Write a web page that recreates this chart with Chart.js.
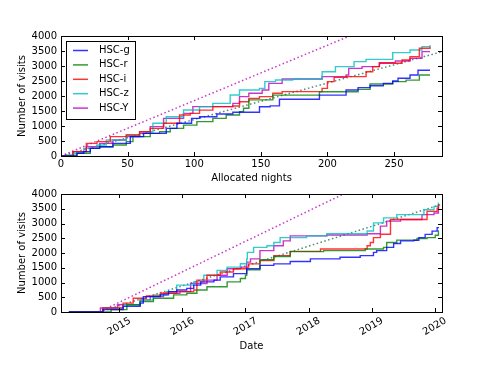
<!DOCTYPE html>
<html>
<head>
<meta charset="utf-8">
<script src="https://cdn.jsdelivr.net/npm/chart.js@4.4.0/dist/chart.umd.min.js"></script>
<style>
	html, body { margin: 0; padding: 0; background: #fff; }
	#wrap { position: relative; width: 491px; height: 368px; }
	canvas { position: absolute; left: 0; }
	#nightsChart { top: 0; }
	#dateChart { top: 184px; }
</style>
</head>
<body>
<div id="wrap">
	<canvas id="nightsChart" width="491" height="184"></canvas>
	<canvas id="dateChart" width="491" height="184"></canvas>
</div>
<script>
// ===== DATA =====
const filters = ['HSC-g', 'HSC-r', 'HSC-i', 'HSC-z', 'HSC-Y'];
const filterColors = [
	'rgba(0, 0, 255, 0.8)',
	'rgba(0, 128, 0, 0.8)',
	'rgba(255, 0, 0, 0.8)',
	'rgba(0, 191, 191, 0.8)',
	'rgba(191, 0, 191, 0.8)'
];
const visitTicks = [0, 500, 1000, 1500, 2000, 2500, 3000, 3500, 4000];
const nightTicks = [0, 50, 100, 150, 200, 250];
const yearTicks = [2015, 2016, 2017, 2018, 2019, 2020];

// cumulative visits vs allocated nights
const nightsG = [0, 5, 12, 17, 22, 29, 39, 52, 62, 79, 87, 98, 104, 117, 129, 149, 157, 164, 194, 214, 223, 232, 242, 249, 253, 262, 268, 277];
const visitsNightsG = [0, 0, 90, 145, 255, 310, 420, 645, 755, 920, 1090, 1255, 1310, 1400, 1460, 1640, 1670, 1890, 2030, 2200, 2280, 2340, 2420, 2500, 2590, 2700, 2860, 2860];
const nightsR = [0, 4, 12, 22, 29, 39, 49, 54, 67, 74, 82, 92, 102, 114, 124, 134, 137, 141, 159, 194, 223, 232, 249, 259, 269, 277];
const visitsNightsR = [0, 30, 90, 255, 310, 365, 480, 645, 755, 810, 920, 1030, 1145, 1255, 1365, 1480, 1590, 1870, 2030, 2140, 2220, 2400, 2480, 2530, 2700, 2700];
const nightsI = [0, 9, 19, 27, 37, 49, 59, 67, 77, 89, 97, 104, 114, 129, 134, 141, 149, 159, 166, 196, 200, 205, 214, 229, 234, 239, 256, 262, 269, 277];
const visitsNightsI = [0, 145, 420, 480, 645, 700, 810, 920, 1090, 1365, 1420, 1530, 1645, 1665, 1810, 1920, 1980, 2090, 2145, 2255, 2480, 2620, 2645, 2810, 2980, 3090, 3200, 3310, 3590, 3640];
const nightsZ = [0, 9, 17, 27, 34, 49, 59, 69, 79, 92, 104, 114, 127, 134, 149, 153, 161, 174, 196, 206, 220, 229, 249, 262, 271, 277];
const visitsNightsZ = [0, 90, 255, 365, 535, 700, 810, 1090, 1310, 1535, 1645, 1755, 2035, 2200, 2255, 2480, 2535, 2565, 2810, 2980, 3145, 3220, 3445, 3535, 3645, 3700];
const nightsY = [0, 9, 19, 29, 39, 49, 59, 67, 77, 92, 99, 129, 134, 141, 151, 156, 166, 196, 214, 216, 226, 239, 251, 262, 271, 277];
const visitsNightsY = [0, 145, 310, 420, 535, 645, 755, 980, 1255, 1420, 1645, 1755, 1980, 2090, 2200, 2420, 2565, 2645, 2700, 2920, 2980, 3110, 3165, 3255, 3480, 3480];

// cumulative visits vs date (decimal year)
const datesG = [2014.2, 2014.74, 2015.06, 2015.33, 2015.38, 2015.65, 2015.78, 2015.91, 2016.07, 2016.18, 2016.29, 2016.5, 2016.6, 2016.81, 2017.02, 2017.23, 2017.45, 2017.71, 2018.03, 2018.5, 2018.82, 2019.03, 2019.08, 2019.24, 2019.35, 2019.46, 2019.67, 2019.75, 2019.85, 2019.96, 2020.04, 2020.07];
const visitsDatesG = [0, 80, 190, 300, 520, 580, 690, 745, 800, 910, 1020, 1080, 1190, 1300, 1470, 1580, 1630, 1710, 1800, 1855, 1910, 2020, 2080, 2190, 2320, 2410, 2430, 2520, 2630, 2740, 2860, 2860];
const datesR = [2014.2, 2014.87, 2015.12, 2015.33, 2015.54, 2015.86, 2016.07, 2016.23, 2016.39, 2016.71, 2016.92, 2017.0, 2017.02, 2017.23, 2017.45, 2017.71, 2018.24, 2018.9, 2019.19, 2019.24, 2019.4, 2019.72, 2019.88, 2020.01, 2020.06, 2020.07];
const visitsDatesR = [0, 80, 245, 355, 465, 580, 635, 745, 855, 1020, 1135, 1245, 1430, 1770, 1880, 2045, 2080, 2135, 2190, 2355, 2435, 2490, 2520, 2600, 2745, 2745];
const datesI = [2014.2, 2014.74, 2015.06, 2015.22, 2015.43, 2015.65, 2015.91, 2016.18, 2016.23, 2016.39, 2016.6, 2016.81, 2017.02, 2017.05, 2017.23, 2017.45, 2017.71, 2018.19, 2018.93, 2018.98, 2019.03, 2019.14, 2019.3, 2019.88, 2020.04, 2020.06, 2020.07];
const visitsDatesI = [0, 135, 300, 465, 545, 635, 690, 745, 1080, 1245, 1355, 1465, 1520, 1630, 1745, 1910, 2055, 2135, 2245, 2355, 2520, 2635, 3135, 3410, 3520, 3630, 3630];
const datesZ = [2014.2, 2014.74, 2015.06, 2015.33, 2015.54, 2015.75, 2015.91, 2016.18, 2016.34, 2016.55, 2016.71, 2016.92, 2017.02, 2017.03, 2017.13, 2017.34, 2017.45, 2017.55, 2017.97, 2018.29, 2018.93, 2019.03, 2019.19, 2019.4, 2019.83, 2019.99, 2020.06, 2020.07];
const visitsDatesZ = [0, 135, 245, 410, 580, 690, 910, 1020, 1245, 1410, 1520, 1635, 1800, 2020, 2190, 2245, 2355, 2520, 2580, 2655, 2745, 3020, 3190, 3300, 3465, 3580, 3690, 3690];
const datesY = [2014.2, 2014.7, 2014.97, 2015.33, 2015.49, 2015.7, 2015.96, 2016.13, 2016.39, 2016.55, 2016.71, 2016.92, 2017.02, 2017.08, 2017.23, 2017.45, 2017.6, 2017.71, 2018.29, 2018.93, 2019.14, 2019.24, 2019.46, 2019.8, 2019.99, 2020.06, 2020.07];
const visitsDatesY = [0, 135, 245, 410, 520, 635, 690, 965, 1080, 1245, 1465, 1520, 1690, 1800, 2080, 2245, 2410, 2580, 2610, 2655, 2910, 3080, 3135, 3300, 3355, 3580, 3580];

// dotted reference rates
const refNights = [0, 286];
const refFastNights = [0, 5280];
const refSlowNights = [0, 3477];
const refDates = [2014.68, 2020.117];
const refFastDates = [0, 5611];
const refSlowDates = [0, 3653];

// ===== HELPERS =====
const FONT = { family: '"DejaVu Sans", sans-serif', size: 10 };

function toPoints(xs, ys) {
	return xs.map((x, i) => ({ x: x, y: ys[i] }));
}

function stepSet(i, xs, ys) {
	return {
		label: filters[i],
		data: toPoints(xs, ys),
		borderColor: filterColors[i],
		borderWidth: 1.4,
		stepped: true,
		pointRadius: 0,
		fill: false
	};
}

function dottedSet(xs, ys, color) {
	return {
		label: '',
		data: toPoints(xs, ys),
		borderColor: color,
		borderWidth: 1.5,
		borderDash: [1.5, 2.5],
		pointRadius: 0,
		fill: false
	};
}

// frame + inward ticks on all four sides (matplotlib classic look)
const axesFrame = {
	id: 'axesFrame',
	afterDatasetsDraw(chart) {
		const { ctx, chartArea: a, scales } = chart;
		ctx.save();
		ctx.strokeStyle = '#000';
		ctx.lineWidth = 1;
		ctx.beginPath();
		scales.x.ticks.forEach(t => {
			const px = Math.round(scales.x.getPixelForValue(t.value)) + 0.5;
			ctx.moveTo(px, a.bottom); ctx.lineTo(px, a.bottom - 4);
			ctx.moveTo(px, a.top); ctx.lineTo(px, a.top + 4);
		});
		scales.y.ticks.forEach(t => {
			const py = Math.round(scales.y.getPixelForValue(t.value)) + 0.5;
			ctx.moveTo(a.left, py); ctx.lineTo(a.left + 4, py);
			ctx.moveTo(a.right, py); ctx.lineTo(a.right - 4, py);
		});
		ctx.stroke();
		ctx.strokeRect(Math.round(a.left) + 0.5, Math.round(a.top) + 0.5,
			Math.round(a.right - a.left), Math.round(a.bottom - a.top));
		ctx.restore();
	}
};

const boxLegend = {
	id: 'boxLegend',
	afterDraw(chart) {
		const ctx = chart.ctx;
		ctx.save();
		ctx.fillStyle = '#fff';
		ctx.fillRect(66, 41, 69, 78);
		ctx.strokeStyle = '#000';
		ctx.lineWidth = 1;
		ctx.strokeRect(66.5, 41.5, 69, 78);
		ctx.font = '10px "DejaVu Sans", sans-serif';
		ctx.textBaseline = 'middle';
		filters.forEach((name, i) => {
			const y = 50.5 + i * 14.4;
			ctx.strokeStyle = filterColors[i];
			ctx.lineWidth = 1.5;
			ctx.beginPath();
			ctx.moveTo(73, y);
			ctx.lineTo(88, y);
			ctx.stroke();
			ctx.fillStyle = '#000';
			ctx.fillText(name, 99, y);
		});
		ctx.restore();
	}
};

function yScale(titlePad) {
	return {
		type: 'linear',
		min: 0,
		max: 4000,
		afterBuildTicks: s => { s.ticks = visitTicks.map(v => ({ value: v })); },
		afterFit: s => { s.width = 61; },
		ticks: { font: FONT, color: '#000', padding: 4, autoSkip: false, callback: v => String(v) },
		grid: { display: false, drawTicks: false },
		border: { display: false },
		title: { display: true, text: 'Number of visits', font: FONT, color: '#000', padding: { top: titlePad, bottom: 0 } }
	};
}

// ===== TOP CHART: ALLOCATED NIGHTS =====
new Chart(document.getElementById('nightsChart').getContext('2d'), {
	type: 'line',
	data: {
		datasets: [
			stepSet(0, nightsG, visitsNightsG),
			stepSet(1, nightsR, visitsNightsR),
			stepSet(2, nightsI, visitsNightsI),
			stepSet(3, nightsZ, visitsNightsZ),
			stepSet(4, nightsY, visitsNightsY),
			dottedSet(refNights, refFastNights, 'rgba(191, 0, 191, 0.8)'),
			dottedSet(refNights, refSlowNights, 'rgba(40, 110, 80, 0.8)')
		]
	},
	options: {
		responsive: false,
		animation: false,
		events: [],
		layout: { padding: { top: 36, right: 49, bottom: 0, left: 0 } },
		plugins: { legend: { display: false }, tooltip: { enabled: false } },
		scales: {
			x: {
				type: 'linear',
				min: 0,
				max: 286,
				afterBuildTicks: s => { s.ticks = nightTicks.map(v => ({ value: v })); },
				afterFit: s => { s.height = 28; },
				ticks: { font: FONT, color: '#000', padding: 2, maxRotation: 0, autoSkip: false, callback: v => String(v) },
				grid: { display: false, drawTicks: false },
				border: { display: false },
				title: { display: true, text: 'Allocated nights', font: FONT, color: '#000', padding: { top: 0, bottom: 0 } }
			},
			y: yScale(16)
		}
	},
	plugins: [axesFrame, boxLegend]
});

// ===== BOTTOM CHART: DATE =====
new Chart(document.getElementById('dateChart').getContext('2d'), {
	type: 'line',
	data: {
		datasets: [
			stepSet(0, datesG, visitsDatesG),
			stepSet(1, datesR, visitsDatesR),
			stepSet(2, datesI, visitsDatesI),
			stepSet(3, datesZ, visitsDatesZ),
			stepSet(4, datesY, visitsDatesY),
			dottedSet(refDates, refFastDates, 'rgba(191, 0, 191, 0.8)'),
			dottedSet(refDates, refSlowDates, 'rgba(40, 110, 80, 0.8)')
		]
	},
	options: {
		responsive: false,
		animation: false,
		events: [],
		layout: { padding: { top: 8, right: 49, bottom: 0, left: 0 } },
		plugins: { legend: { display: false }, tooltip: { enabled: false } },
		scales: {
			x: {
				type: 'linear',
				min: 2014.075,
				max: 2020.117,
				afterBuildTicks: s => { s.ticks = yearTicks.map(v => ({ value: v })); },
				afterFit: s => { s.height = 56; },
				ticks: {
					font: FONT,
					color: '#000',
					padding: 3,
					minRotation: 30,
					maxRotation: 30,
					labelOffset: 11,
					autoSkip: false,
					callback: v => String(v)
				},
				grid: { display: false, drawTicks: false },
				border: { display: false },
				title: { display: true, text: 'Date', font: FONT, color: '#000', padding: { top: 0, bottom: 16 } }
			},
			y: yScale(16)
		}
	},
	plugins: [axesFrame]
});
</script>
</body>
</html>
